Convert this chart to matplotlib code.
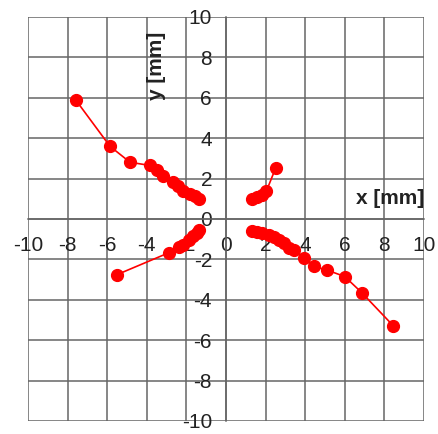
import matplotlib
matplotlib.use('Agg')
import matplotlib.pyplot as plt
import numpy as np

plt.rcParams['font.family'] = ['Liberation Sans', 'DejaVu Sans']
plt.rcParams['axes.unicode_minus'] = False

# four branches of measured points (x, y in mm)
upper_left_x = [-7.58, -5.86, -4.85, -3.84, -3.50, -3.20, -2.66, -2.41, -2.16, -1.82, -1.57, -1.35]
upper_left_y = [5.88, 3.60, 2.81, 2.65, 2.42, 2.15, 1.82, 1.62, 1.38, 1.26, 1.13, 0.97]

lower_left_x = [-5.52, -2.86, -2.36, -2.16, -1.85, -1.65, -1.48, -1.35]
lower_left_y = [-2.76, -1.66, -1.39, -1.28, -1.03, -0.83, -0.67, -0.54]

upper_right_x = [1.33, 1.58, 1.80, 2.04, 2.51]
upper_right_y = [0.97, 1.10, 1.21, 1.38, 2.53]

lower_right_x = [1.33, 1.58, 1.83, 2.17, 2.42, 2.68, 2.93, 3.18, 3.43, 3.94, 4.44, 5.08, 6.00, 6.85, 8.45]
lower_right_y = [-0.57, -0.62, -0.70, -0.78, -0.90, -1.03, -1.20, -1.44, -1.53, -1.94, -2.35, -2.52, -2.85, -3.64, -5.29]

ticks = np.arange(-10, 11, 2)
grid_color = '#666666'

fig = plt.figure(figsize=(4.38, 4.34), dpi=100)
ax = fig.add_axes([28 / 438, 13 / 434, 396 / 438, 404 / 434])

for xs, ys in [(upper_left_x, upper_left_y), (lower_left_x, lower_left_y),
               (upper_right_x, upper_right_y), (lower_right_x, lower_right_y)]:
    ax.plot(xs, ys, color='#ff0000', lw=1.2, marker='o', ms=8.5, zorder=3)

ax.set_xlim(-10, 10)
ax.set_ylim(-10, 10)
ax.set_xticks(ticks)
ax.set_yticks(ticks)
ax.grid(True, color=grid_color, lw=1.1)
ax.set_axisbelow(True)

# axes through the origin, Excel style
ax.spines['left'].set_position('zero')
ax.spines['bottom'].set_position('zero')
ax.spines['top'].set_visible(False)
ax.spines['right'].set_visible(False)
for s in ['left', 'bottom']:
    ax.spines[s].set_color(grid_color)
    ax.spines[s].set_linewidth(1.1)
ax.tick_params(axis='both', length=0, labelsize=15, colors='#222222')
ax.tick_params(axis='x', pad=12)
ax.tick_params(axis='y', pad=10)

for lbl in ax.get_xticklabels() + ax.get_yticklabels():
    lbl.set_clip_on(False)

ax.text(8.3, 1.0, 'x [mm]', fontsize=15, fontweight='bold', ha='center', va='center', color='#222222')
ax.text(-3.5, 7.6, 'y [mm]', fontsize=15, fontweight='bold', ha='center', va='center',
        rotation=90, color='#222222')

fig.savefig('out.png', dpi=100)
